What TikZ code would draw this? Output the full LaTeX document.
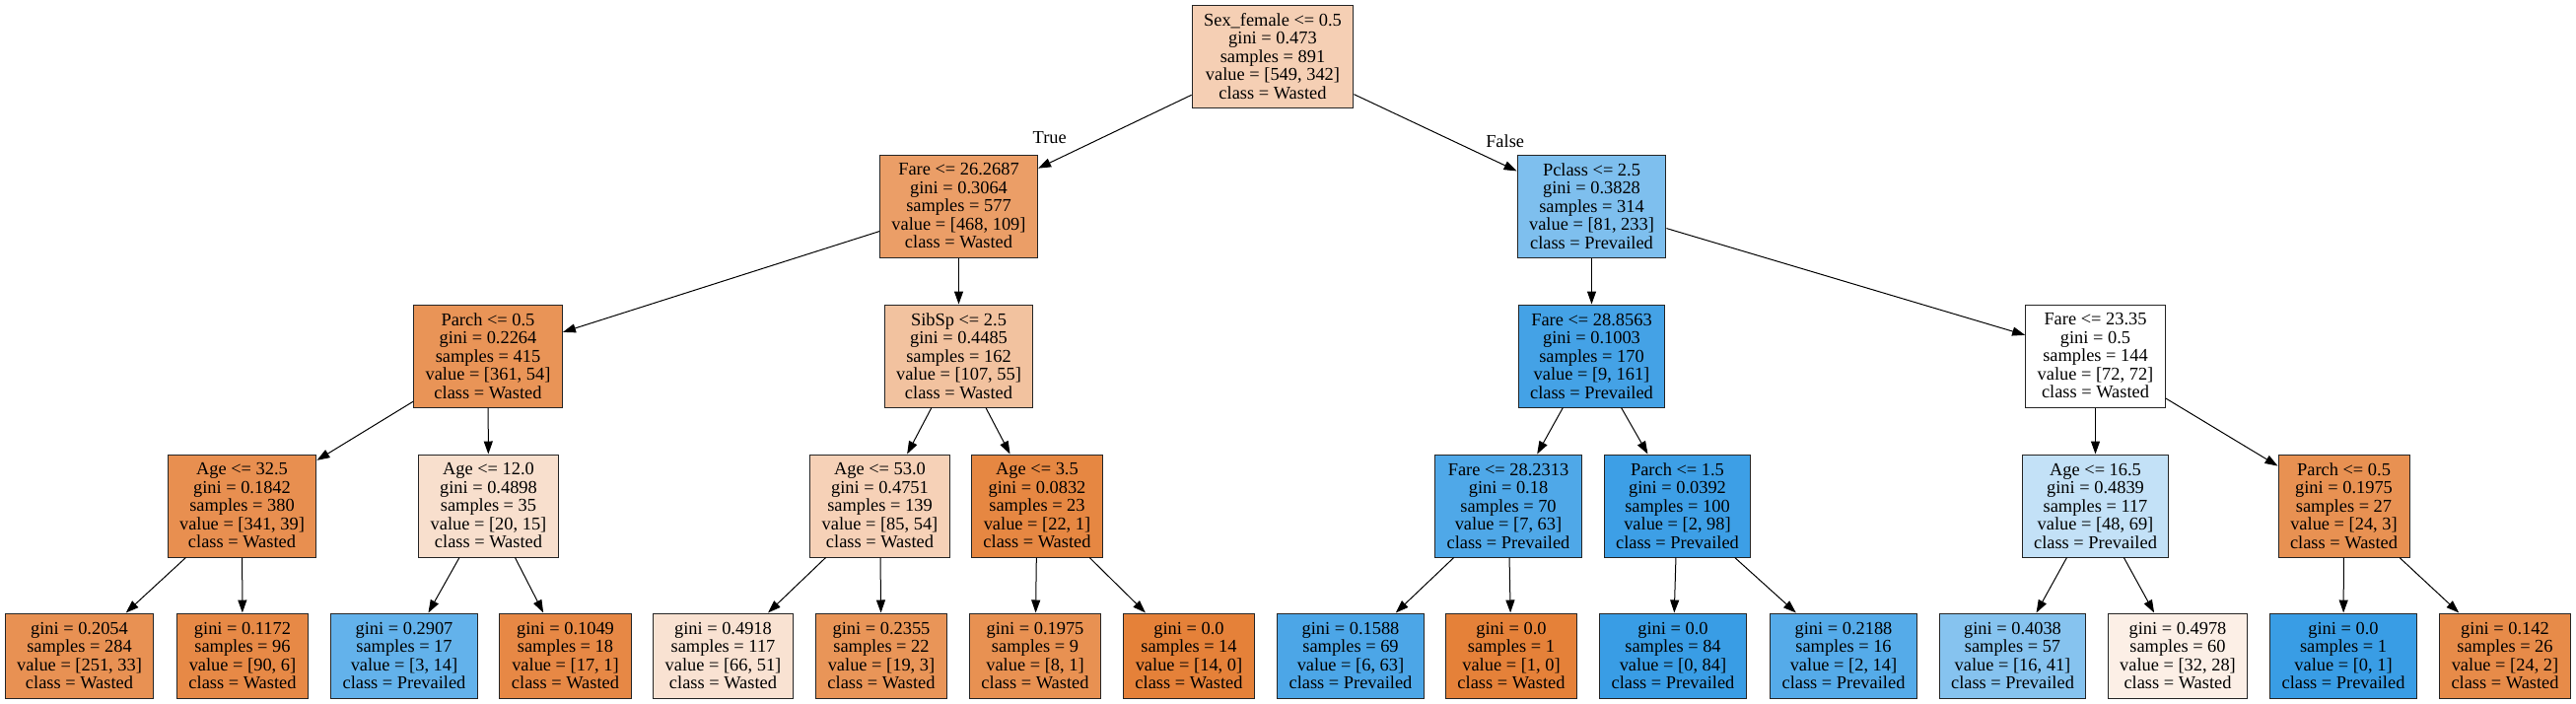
\documentclass[tikz,border=0pt]{standalone}
\usepackage{fontspec}
\setmainfont{Liberation Serif}
\usetikzlibrary{arrows.meta}
\definecolor{wasted}{RGB}{229,129,57}
\definecolor{prevailed}{RGB}{57,157,229}

\begin{document}
\begin{tikzpicture}[x=1pt,y=-1pt,
        splitbox/.style={draw=black!85,line width=1pt,minimum height=104pt,inner xsep=12pt,inner ysep=0pt,align=center,font=\fontsize{18.4}{18.5}\selectfont},
        leafbox/.style={splitbox,minimum height=86pt},
        arr/.style={line width=1pt,-{Triangle[length=13pt,width=9pt]}},
        lbl/.style={font=\fontsize{18.4}{18.5}\selectfont,inner sep=0pt}]
        \useasboundingbox (0,0) rectangle (2613,713);
        \node[splitbox,fill=wasted!37.7!white] (sexf) at (1291,57) {Sex\_female <= 0.5\\gini = 0.473\\samples = 891\\value = [549, 342]\\class = Wasted};
        \node[splitbox,fill=wasted!76.7!white] (fare1) at (972.5,209) {Fare <= 26.2687\\gini = 0.3064\\samples = 577\\value = [468, 109]\\class = Wasted};
        \node[splitbox,fill=prevailed!65.2!white] (pclass) at (1614.5,209) {Pclass <= 2.5\\gini = 0.3828\\samples = 314\\value = [81, 233]\\class = Prevailed};
        \node[splitbox,fill=wasted!85!white] (parch1) at (495,361) {Parch <= 0.5\\gini = 0.2264\\samples = 415\\value = [361, 54]\\class = Wasted};
        \node[splitbox,fill=wasted!48.6!white] (sibsp) at (972.5,361) {SibSp <= 2.5\\gini = 0.4485\\samples = 162\\value = [107, 55]\\class = Wasted};
        \node[splitbox,fill=prevailed!94.4!white] (fare2) at (1614.5,361) {Fare <= 28.8563\\gini = 0.1003\\samples = 170\\value = [9, 161]\\class = Prevailed};
        \node[splitbox,fill=white] (fare3) at (2125.5,361) {Fare <= 23.35\\gini = 0.5\\samples = 144\\value = [72, 72]\\class = Wasted};
        \node[splitbox,fill=wasted!88.6!white] (age1) at (245.5,513) {Age <= 32.5\\gini = 0.1842\\samples = 380\\value = [341, 39]\\class = Wasted};
        \node[splitbox,fill=wasted!25!white] (age2) at (495.5,513) {Age <= 12.0\\gini = 0.4898\\samples = 35\\value = [20, 15]\\class = Wasted};
        \node[splitbox,fill=wasted!36.5!white] (age3) at (892.5,513) {Age <= 53.0\\gini = 0.4751\\samples = 139\\value = [85, 54]\\class = Wasted};
        \node[splitbox,fill=wasted!95.5!white] (age4) at (1052,513) {Age <= 3.5\\gini = 0.0832\\samples = 23\\value = [22, 1]\\class = Wasted};
        \node[splitbox,fill=prevailed!88.9!white] (fare4) at (1530,513) {Fare <= 28.2313\\gini = 0.18\\samples = 70\\value = [7, 63]\\class = Prevailed};
        \node[splitbox,fill=prevailed!98!white] (parch2) at (1701.5,513) {Parch <= 1.5\\gini = 0.0392\\samples = 100\\value = [2, 98]\\class = Prevailed};
        \node[splitbox,fill=prevailed!30.4!white] (age5) at (2125.5,513) {Age <= 16.5\\gini = 0.4839\\samples = 117\\value = [48, 69]\\class = Prevailed};
        \node[splitbox,fill=wasted!87.5!white] (parch3) at (2377.5,513) {Parch <= 0.5\\gini = 0.1975\\samples = 27\\value = [24, 3]\\class = Wasted};
        \node[leafbox,fill=wasted!86.9!white] (leaf1) at (80.5,665) {gini = 0.2054\\samples = 284\\value = [251, 33]\\class = Wasted};
        \node[leafbox,fill=wasted!93.3!white] (leaf2) at (246,665) {gini = 0.1172\\samples = 96\\value = [90, 6]\\class = Wasted};
        \node[leafbox,fill=prevailed!78.6!white] (leaf3) at (410,665) {gini = 0.2907\\samples = 17\\value = [3, 14]\\class = Prevailed};
        \node[leafbox,fill=wasted!94.1!white] (leaf4) at (573.5,665) {gini = 0.1049\\samples = 18\\value = [17, 1]\\class = Wasted};
        \node[leafbox,fill=wasted!22.7!white] (leaf5) at (733.5,665) {gini = 0.4918\\samples = 117\\value = [66, 51]\\class = Wasted};
        \node[leafbox,fill=wasted!84.2!white] (leaf6) at (894,665) {gini = 0.2355\\samples = 22\\value = [19, 3]\\class = Wasted};
        \node[leafbox,fill=wasted!87.5!white] (leaf7) at (1050,665) {gini = 0.1975\\samples = 9\\value = [8, 1]\\class = Wasted};
        \node[leafbox,fill=wasted] (leaf8) at (1206,665) {gini = 0.0\\samples = 14\\value = [14, 0]\\class = Wasted};
        \node[leafbox,fill=prevailed!90.5!white] (leaf9) at (1370,665) {gini = 0.1588\\samples = 69\\value = [6, 63]\\class = Prevailed};
        \node[leafbox,fill=wasted] (leaf10) at (1533,665) {gini = 0.0\\samples = 1\\value = [1, 0]\\class = Wasted};
        \node[leafbox,fill=prevailed] (leaf11) at (1697,665) {gini = 0.0\\samples = 84\\value = [0, 84]\\class = Prevailed};
        \node[leafbox,fill=prevailed!85.7!white] (leaf12) at (1870,665) {gini = 0.2188\\samples = 16\\value = [2, 14]\\class = Prevailed};
        \node[leafbox,fill=prevailed!61!white] (leaf13) at (2041.5,665) {gini = 0.4038\\samples = 57\\value = [16, 41]\\class = Prevailed};
        \node[leafbox,fill=wasted!12.5!white] (leaf14) at (2209,665) {gini = 0.4978\\samples = 60\\value = [32, 28]\\class = Wasted};
        \node[leafbox,fill=prevailed] (leaf15) at (2377,665) {gini = 0.0\\samples = 1\\value = [0, 1]\\class = Prevailed};
        \node[leafbox,fill=wasted!91.7!white] (leaf16) at (2541,665) {gini = 0.142\\samples = 26\\value = [24, 2]\\class = Wasted};

        \draw[arr] (sexf) -- node[lbl,pos=0.925,yshift=26pt] {True} (fare1);
        \draw[arr] (sexf) -- node[lbl,pos=0.928,yshift=25pt] {False} (pclass);
        \draw[arr] (fare1) -- (parch1); \draw[arr] (fare1) -- (sibsp);
        \draw[arr] (pclass) -- (fare2); \draw[arr] (pclass) -- (fare3);
        \draw[arr] (parch1) -- (age1); \draw[arr] (parch1) -- (age2);
        \draw[arr] (sibsp) -- (age3); \draw[arr] (sibsp) -- (age4);
        \draw[arr] (fare2) -- (fare4); \draw[arr] (fare2) -- (parch2);
        \draw[arr] (fare3) -- (age5); \draw[arr] (fare3) -- (parch3);
        \draw[arr] (age1) -- (leaf1); \draw[arr] (age1) -- (leaf2);
        \draw[arr] (age2) -- (leaf3); \draw[arr] (age2) -- (leaf4);
        \draw[arr] (age3) -- (leaf5); \draw[arr] (age3) -- (leaf6);
        \draw[arr] (age4) -- (leaf7); \draw[arr] (age4) -- (leaf8);
        \draw[arr] (fare4) -- (leaf9); \draw[arr] (fare4) -- (leaf10);
        \draw[arr] (parch2) -- (leaf11); \draw[arr] (parch2) -- (leaf12);
        \draw[arr] (age5) -- (leaf13); \draw[arr] (age5) -- (leaf14);
        \draw[arr] (parch3) -- (leaf15); \draw[arr] (parch3) -- (leaf16);
    \end{tikzpicture}
\end{document}
